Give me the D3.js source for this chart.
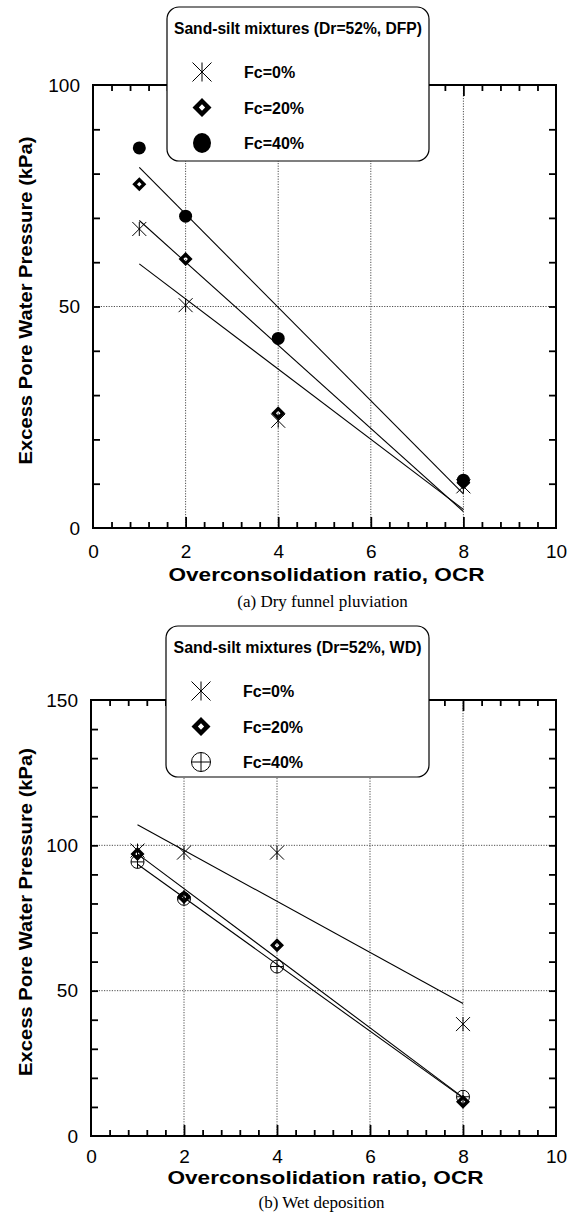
<!DOCTYPE html>
<html lang="en">
<head>
<meta charset="UTF-8">
<title>Excess pore water pressure vs OCR</title>
<style>
  body { margin: 0; background: #fff; }
  svg { display: block; }
  text { fill: #000; }
  .tick-label { font-family: "Liberation Sans", Arial, sans-serif; font-size: 19px; }
  .axis-title { font-family: "Liberation Sans", Arial, sans-serif; font-size: 18px; font-weight: bold; }
  .legend-text { font-family: "Liberation Sans", Arial, sans-serif; font-size: 16px; font-weight: bold; }
  .caption { font-family: "Liberation Serif", "Times New Roman", serif; font-size: 17px; }
</style>
</head>
<body>
<svg id="chart" width="577" height="1227"></svg>
<script src="https://d3js.org/d3.v7.min.js"></script>
<script>
// overconsolidation ratio for every test
const ocr = [1, 2, 4, 8];

// (a) dry funnel pluviation, kPa
const dfpFc0 = [67.5, 50.3, 24.2, 9.4];
const dfpFc20 = [77.6, 60.7, 25.9, 10.2];
const dfpFc40 = [85.8, 70.4, 42.8, 10.8];

// (b) wet deposition, kPa
const wdFc0 = [98.2, 97.5, 97.5, 38.5];
const wdFc20 = [97.0, 82.2, 65.6, 11.8];
const wdFc40 = [94.3, 81.6, 58.3, 13.5];

const seriesNames = ['Fc=0%', 'Fc=20%', 'Fc=40%'];
const xTickLabels = [0, 2, 4, 6, 8, 10];
const xGridValues = [2, 4, 6, 8];

const svg = d3.select('#chart');

function linFit(xs, ys) {
  const n = xs.length;
  const mx = d3.mean(xs), my = d3.mean(ys);
  let sxy = 0, sxx = 0;
  for (let i = 0; i < n; i++) {
    sxy += (xs[i] - mx) * (ys[i] - my);
    sxx += (xs[i] - mx) * (xs[i] - mx);
  }
  const b = sxy / sxx;
  return { a: my - b * mx, b: b };
}

// marker paths, centred on 0,0
function asteriskPath(s) {
  return `M0,${-s}L0,${s}M${-s},${-s}L${s},${s}M${-s},${s}L${s},${-s}`;
}
function diamondPath(r) {
  const h = r * 0.33;
  return `M0,${-r}L${r},0L0,${r}L${-r},0Z M0,${-h}L${-h},0L0,${h}L${h},0Z`;
}
function circlePlusPath(r) {
  return `M${-r},0A${r},${r} 0 1,0 ${r},0A${r},${r} 0 1,0 ${-r},0Z M${-r},0L${r},0M0,${-r}L0,${r}`;
}

function drawMarker(g, type, big) {
  if (type === 'asterisk') {
    const s = big ? 9.5 : 7;
    g.append('path').attr('d', asteriskPath(s))
      .attr('stroke', '#000').attr('stroke-width', 1).attr('fill', 'none');
  } else if (type === 'diamond') {
    const r = big ? 9.5 : 7;
    g.append('path').attr('d', diamondPath(r))
      .attr('fill', '#000').attr('fill-rule', 'evenodd');
  } else if (type === 'dot') {
    g.append('ellipse').attr('rx', big ? 9 : 6.5).attr('ry', big ? 10 : 6.5)
      .attr('fill', '#000');
  } else if (type === 'circleplus') {
    const r = big ? 9.5 : 6.5;
    g.append('path').attr('d', circlePlusPath(r))
      .attr('stroke', '#000').attr('stroke-width', 1).attr('fill', 'none');
  }
}

function drawPanel(cfg) {
  const g = svg.append('g');
  const x = d3.scaleLinear().domain([0, 10]).range([cfg.left, cfg.right]);
  const y = d3.scaleLinear().domain([0, cfg.yMax]).range([cfg.bottom, cfg.top]);

  // dotted grid
  const grid = g.append('g').attr('stroke', '#222').attr('stroke-width', 0.8)
    .attr('stroke-dasharray', '1.2,1.4');
  grid.selectAll('.vg').data(xGridValues).join('line').attr('class', 'vg')
    .attr('x1', d => x(d)).attr('x2', d => x(d))
    .attr('y1', cfg.top).attr('y2', cfg.bottom);
  grid.selectAll('.hg').data(cfg.yGrid).join('line').attr('class', 'hg')
    .attr('x1', cfg.left).attr('x2', cfg.right)
    .attr('y1', d => y(d)).attr('y2', d => y(d));

  // ticks (inward) on all four sides
  const minor = d3.range(1, 25).map(k => +(k * 0.4).toFixed(1)).filter(v => v % 2 !== 0);
  const yTicks = d3.range(10, cfg.yMax, 10);
  const tickAxes = [
    [d3.axisBottom(x).tickValues(minor).tickSize(-6), `translate(0,${cfg.bottom})`],
    [d3.axisBottom(x).tickValues(xGridValues).tickSize(-11), `translate(0,${cfg.bottom})`],
    [d3.axisTop(x).tickValues(minor).tickSize(-6), `translate(0,${cfg.top})`],
    [d3.axisTop(x).tickValues(xGridValues).tickSize(-11), `translate(0,${cfg.top})`],
    [d3.axisLeft(y).tickValues(yTicks).tickSize(-7), `translate(${cfg.left},0)`],
    [d3.axisRight(y).tickValues(yTicks).tickSize(-7), `translate(${cfg.right},0)`]
  ];
  tickAxes.forEach(([ax, tr]) => {
    const a = g.append('g').attr('transform', tr).call(ax.tickFormat(''));
    a.select('.domain').remove();
    a.selectAll('line').attr('stroke', '#000').attr('stroke-width', 1.8);
  });

  // tick labels
  const xl = g.append('g').attr('transform', `translate(0,${cfg.bottom})`)
    .call(d3.axisBottom(x).tickValues(xTickLabels).tickSize(0).tickPadding(cfg.xLabelPad).tickFormat(d3.format('d')));
  xl.select('.domain').remove();
  xl.selectAll('text').attr('class', 'tick-label').attr('font-size', null).attr('font-family', null);
  const yl = g.append('g').attr('transform', `translate(${cfg.left},0)`)
    .call(d3.axisLeft(y).tickValues(cfg.yLabels).tickSize(0).tickPadding(13).tickFormat(d3.format('d')));
  yl.select('.domain').remove();
  yl.selectAll('text').attr('class', 'tick-label').attr('font-size', null).attr('font-family', null);

  // regression lines over OCR 1..8
  const lines = g.append('g');
  cfg.series.forEach(s => {
    const f = linFit(ocr, s.values);
    lines.append('line')
      .attr('x1', x(ocr[0])).attr('y1', y(f.a + f.b * ocr[0]))
      .attr('x2', x(ocr[ocr.length - 1])).attr('y2', y(f.a + f.b * ocr[ocr.length - 1]))
      .attr('stroke', '#000').attr('stroke-width', 1.1);
  });

  // data points
  cfg.series.forEach(s => {
    g.append('g').selectAll('g').data(ocr.map((o, i) => [o, s.values[i]])).join('g')
      .attr('transform', d => `translate(${x(d[0])},${y(d[1])})`)
      .each(function () { drawMarker(d3.select(this), s.marker, false); });
  });

  // frame
  g.append('rect').attr('x', cfg.left).attr('y', cfg.top)
    .attr('width', cfg.right - cfg.left).attr('height', cfg.bottom - cfg.top)
    .attr('fill', 'none').attr('stroke', '#000').attr('stroke-width', 2);

  // axis titles
  g.append('text').attr('class', 'axis-title')
    .attr('x', (cfg.left + cfg.right) / 2 + 2).attr('y', cfg.xTitleY)
    .attr('text-anchor', 'middle')
    .attr('textLength', 316).attr('lengthAdjust', 'spacingAndGlyphs')
    .text('Overconsolidation ratio, OCR');
  const yc = (cfg.top + cfg.bottom) / 2 - 6;
  g.append('text').attr('class', 'axis-title')
    .attr('transform', `translate(32,${yc}) rotate(-90)`)
    .attr('text-anchor', 'middle')
    .attr('textLength', 328).attr('lengthAdjust', 'spacingAndGlyphs')
    .text('Excess Pore Water Pressure (kPa)');

  // caption
  g.append('text').attr('class', 'caption')
    .attr('x', (cfg.left + cfg.right) / 2 - 2).attr('y', cfg.captionY)
    .attr('text-anchor', 'middle').text(cfg.caption);

  // legend
  const L = cfg.legend;
  const lg = g.append('g');
  lg.append('rect').attr('x', L.x).attr('y', L.y).attr('width', L.w).attr('height', L.h)
    .attr('rx', 12).attr('fill', '#fff').attr('stroke', '#000').attr('stroke-width', 1.2);
  lg.append('text').attr('class', 'legend-text')
    .attr('x', L.x + L.w / 2).attr('y', L.y + 27).attr('text-anchor', 'middle')
    .attr('textLength', 248).attr('lengthAdjust', 'spacingAndGlyphs')
    .text(L.title);
  cfg.series.forEach((s, i) => {
    const cy = L.y + 65 + i * 35.5;
    const m = lg.append('g').attr('transform', `translate(${L.x + 35},${cy})`);
    drawMarker(m, s.marker, true);
    lg.append('text').attr('class', 'legend-text')
      .attr('x', L.x + 77).attr('y', cy + 6).text(seriesNames[i]);
  });
}

drawPanel({
  left: 93, right: 556, top: 85, bottom: 528, yMax: 100,
  yLabels: [0, 50, 100], yGrid: [50],
  xLabelPad: 17, xTitleY: 581, captionY: 607,
  caption: '(a) Dry funnel pluviation',
  series: [
    { values: dfpFc0, marker: 'asterisk' },
    { values: dfpFc20, marker: 'diamond' },
    { values: dfpFc40, marker: 'dot' }
  ],
  legend: { x: 167, y: 7, w: 262, h: 154, title: 'Sand-silt mixtures (Dr=52%, DFP)' }
});

drawPanel({
  left: 91, right: 556, top: 700, bottom: 1136, yMax: 150,
  yLabels: [0, 50, 100, 150], yGrid: [50, 100],
  xLabelPad: 14, xTitleY: 1184, captionY: 1208,
  caption: '(b) Wet deposition',
  series: [
    { values: wdFc0, marker: 'asterisk' },
    { values: wdFc20, marker: 'diamond' },
    { values: wdFc40, marker: 'circleplus' }
  ],
  legend: { x: 166, y: 626, w: 263, h: 151, title: 'Sand-silt mixtures (Dr=52%, WD)' }
});
</script>
</body>
</html>
